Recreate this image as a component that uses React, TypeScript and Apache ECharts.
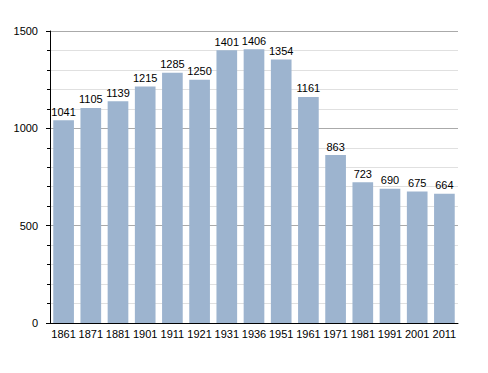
import React, { useEffect, useRef } from "react";
import * as echarts from "echarts";

const years = ["1861", "1871", "1881", "1901", "1911", "1921", "1931", "1936", "1951", "1961", "1971", "1981", "1991", "2001", "2011"];
const population = [1041, 1105, 1139, 1215, 1285, 1250, 1401, 1406, 1354, 1161, 863, 723, 690, 675, 664];

export default function App() {
  const ref = useRef<HTMLDivElement>(null);
  useEffect(() => {
    const chart = echarts.init(ref.current!, null, { renderer: "svg" });
    chart.setOption({
      animation: false,
      grid: { left: 50, right: 30, top: 31, bottom: 50 },
      xAxis: {
        type: "category",
        data: years,
        axisLine: { lineStyle: { color: "#000", width: 1 } },
        axisTick: { show: false },
        axisLabel: { color: "#000", fontSize: 11, fontFamily: "Liberation Sans", margin: 5, interval: 0 },
      },
      yAxis: {
        type: "value",
        min: 0,
        max: 1500,
        interval: 500,
        axisLine: { show: true, lineStyle: { color: "#000", width: 1 } },
        axisTick: { show: true, length: 4, lineStyle: { color: "#000" } },
        minorTick: { show: true, splitNumber: 5, length: 3, lineStyle: { color: "#000" } },
        splitLine: { show: true, lineStyle: { color: "#aaaaaa", width: 1 } },
        minorSplitLine: { show: true, lineStyle: { color: "#e0e0e0", width: 1 } },
        axisLabel: {
          color: "#000",
          fontSize: 11,
          fontFamily: "Liberation Sans",
          margin: 12,
          formatter: (v: number) => String(v),
        },
      },
      series: [
        {
          type: "bar",
          data: population,
          barCategoryGap: "24%",
          itemStyle: { color: "#9db4cf" },
          label: {
            show: true,
            position: "top",
            color: "#000",
            fontSize: 11,
            fontFamily: "Liberation Sans",
            distance: 3,
          },
        },
      ],
    });
    return () => chart.dispose();
  }, []);
  return <div ref={ref} style={{ width: 488, height: 373, position: "absolute", left: 0, top: 0, background: "#fff" }} />;
}
